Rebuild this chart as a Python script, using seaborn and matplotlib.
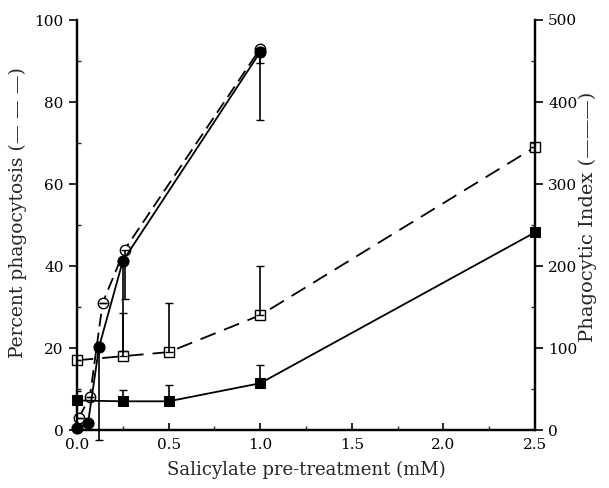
import numpy as np
import pandas as pd
import matplotlib
matplotlib.use("Agg")
import matplotlib.pyplot as plt
from matplotlib.ticker import MultipleLocator
import seaborn as sns

# Percent phagocytosis (left axis, dashed, open markers)
circ_open_x = [0.01, 0.07, 0.14, 0.26, 1.0]
circ_open_y = [3, 8, 31, 44, 93]
circ_open_err = [0, 0, 0, 12, 3.5]          # lower error only

sq_open_x = [0.0, 0.25, 0.5, 1.0, 2.5]
sq_open_y = [17, 18, 19, 28, 69]
sq_open_err = [0, 10.5, 12, 12, 0]          # upper error only

# Phagocytic index (right axis, solid, filled markers)
circ_fill_x = [0.0, 0.06, 0.12, 0.25, 1.0]
circ_fill_y = [2, 8, 101, 206, 461]
circ_fill_err = [0, 0, 113, 110, 83]        # lower error only

sq_fill_x = [0.0, 0.25, 0.5, 1.0, 2.5]
sq_fill_y = [36, 35, 35, 57, 241]
sq_fill_err = [12, 14, 20, 22, 0]           # upper error only

x_ticks = [0.0, 0.5, 1.0, 1.5, 2.0, 2.5]

sns.set_style("ticks")
plt.rcParams['font.family'] = ['DejaVu Serif']

fig = plt.figure(figsize=(6.09, 4.88), dpi=100)
ax = fig.add_axes([77/609, 1-430/488, (535-77)/609, 410/488])
ax2 = ax.twinx()

dash = (0, (7, 3.5))
sns.lineplot(x=circ_open_x, y=circ_open_y, ax=ax, color='black', lw=1.3,
             linestyle=dash, marker='o', markersize=7.5, markerfacecolor='white',
             markeredgecolor='black', markeredgewidth=1.0, clip_on=False)
sns.lineplot(x=sq_open_x, y=sq_open_y, ax=ax, color='black', lw=1.3,
             linestyle=(0, (9, 5)), marker='s', markersize=7, markerfacecolor='white',
             markeredgecolor='black', markeredgewidth=1.0, clip_on=False)
ax.errorbar(circ_open_x, circ_open_y, yerr=[circ_open_err, [0]*5], fmt='none',
            ecolor='black', elinewidth=1.2, capsize=3)
ax.errorbar(sq_open_x, sq_open_y, yerr=[[0]*5, sq_open_err], fmt='none',
            ecolor='black', elinewidth=1.2, capsize=3)

sns.lineplot(x=circ_fill_x, y=circ_fill_y, ax=ax2, color='black', lw=1.3,
             marker='o', markersize=8, markerfacecolor='black',
             markeredgecolor='black', clip_on=False)
sns.lineplot(x=sq_fill_x, y=sq_fill_y, ax=ax2, color='black', lw=1.3,
             marker='s', markersize=7.5, markerfacecolor='black',
             markeredgecolor='black', clip_on=False)
eb = ax2.errorbar(circ_fill_x, circ_fill_y, yerr=[circ_fill_err, [0]*5], fmt='none',
                  ecolor='black', elinewidth=1.2, capsize=3)
for art in eb.lines[1] + eb.lines[2]:
    art.set_clip_on(False)
ax2.errorbar(sq_fill_x, sq_fill_y, yerr=[[0]*5, sq_fill_err], fmt='none',
             ecolor='black', elinewidth=1.2, capsize=3)

ax.set_xlim(0, 2.5)
ax.set_ylim(0, 100)
ax2.set_ylim(0, 500)
ax.set_xticks(x_ticks)
ax.set_xticklabels([f"{t:.1f}" for t in x_ticks])
ax.set_yticks(range(0, 101, 20))
ax2.set_yticks(range(0, 501, 100))
ax.yaxis.set_minor_locator(MultipleLocator(10))
ax2.yaxis.set_minor_locator(MultipleLocator(50))
ax.xaxis.set_minor_locator(MultipleLocator(0.25))

for a in (ax, ax2):
    for s in a.spines.values():
        s.set_linewidth(1.6)
        s.set_color('black')
    a.spines['top'].set_visible(False)
    a.tick_params(which='major', length=6, width=1.2, labelsize=11, colors='black')
    a.tick_params(which='minor', length=3, width=1.0, direction='in')
ax.tick_params(axis='x', which='major', direction='in', length=5, pad=6)

ax.set_xlabel("Salicylate pre-treatment (mM)", fontsize=13, labelpad=6)
ax.set_ylabel("Percent phagocytosis (\u2014 \u2014 \u2014)", fontsize=13.5)
ax.yaxis.set_label_coords(-0.11, 0.53)
ax2.set_ylabel("Phagocytic Index (\u2014\u2014\u2014)", fontsize=14)
ax2.yaxis.set_label_coords(1.095, 0.52)

fig.savefig("out.png", dpi=100)
